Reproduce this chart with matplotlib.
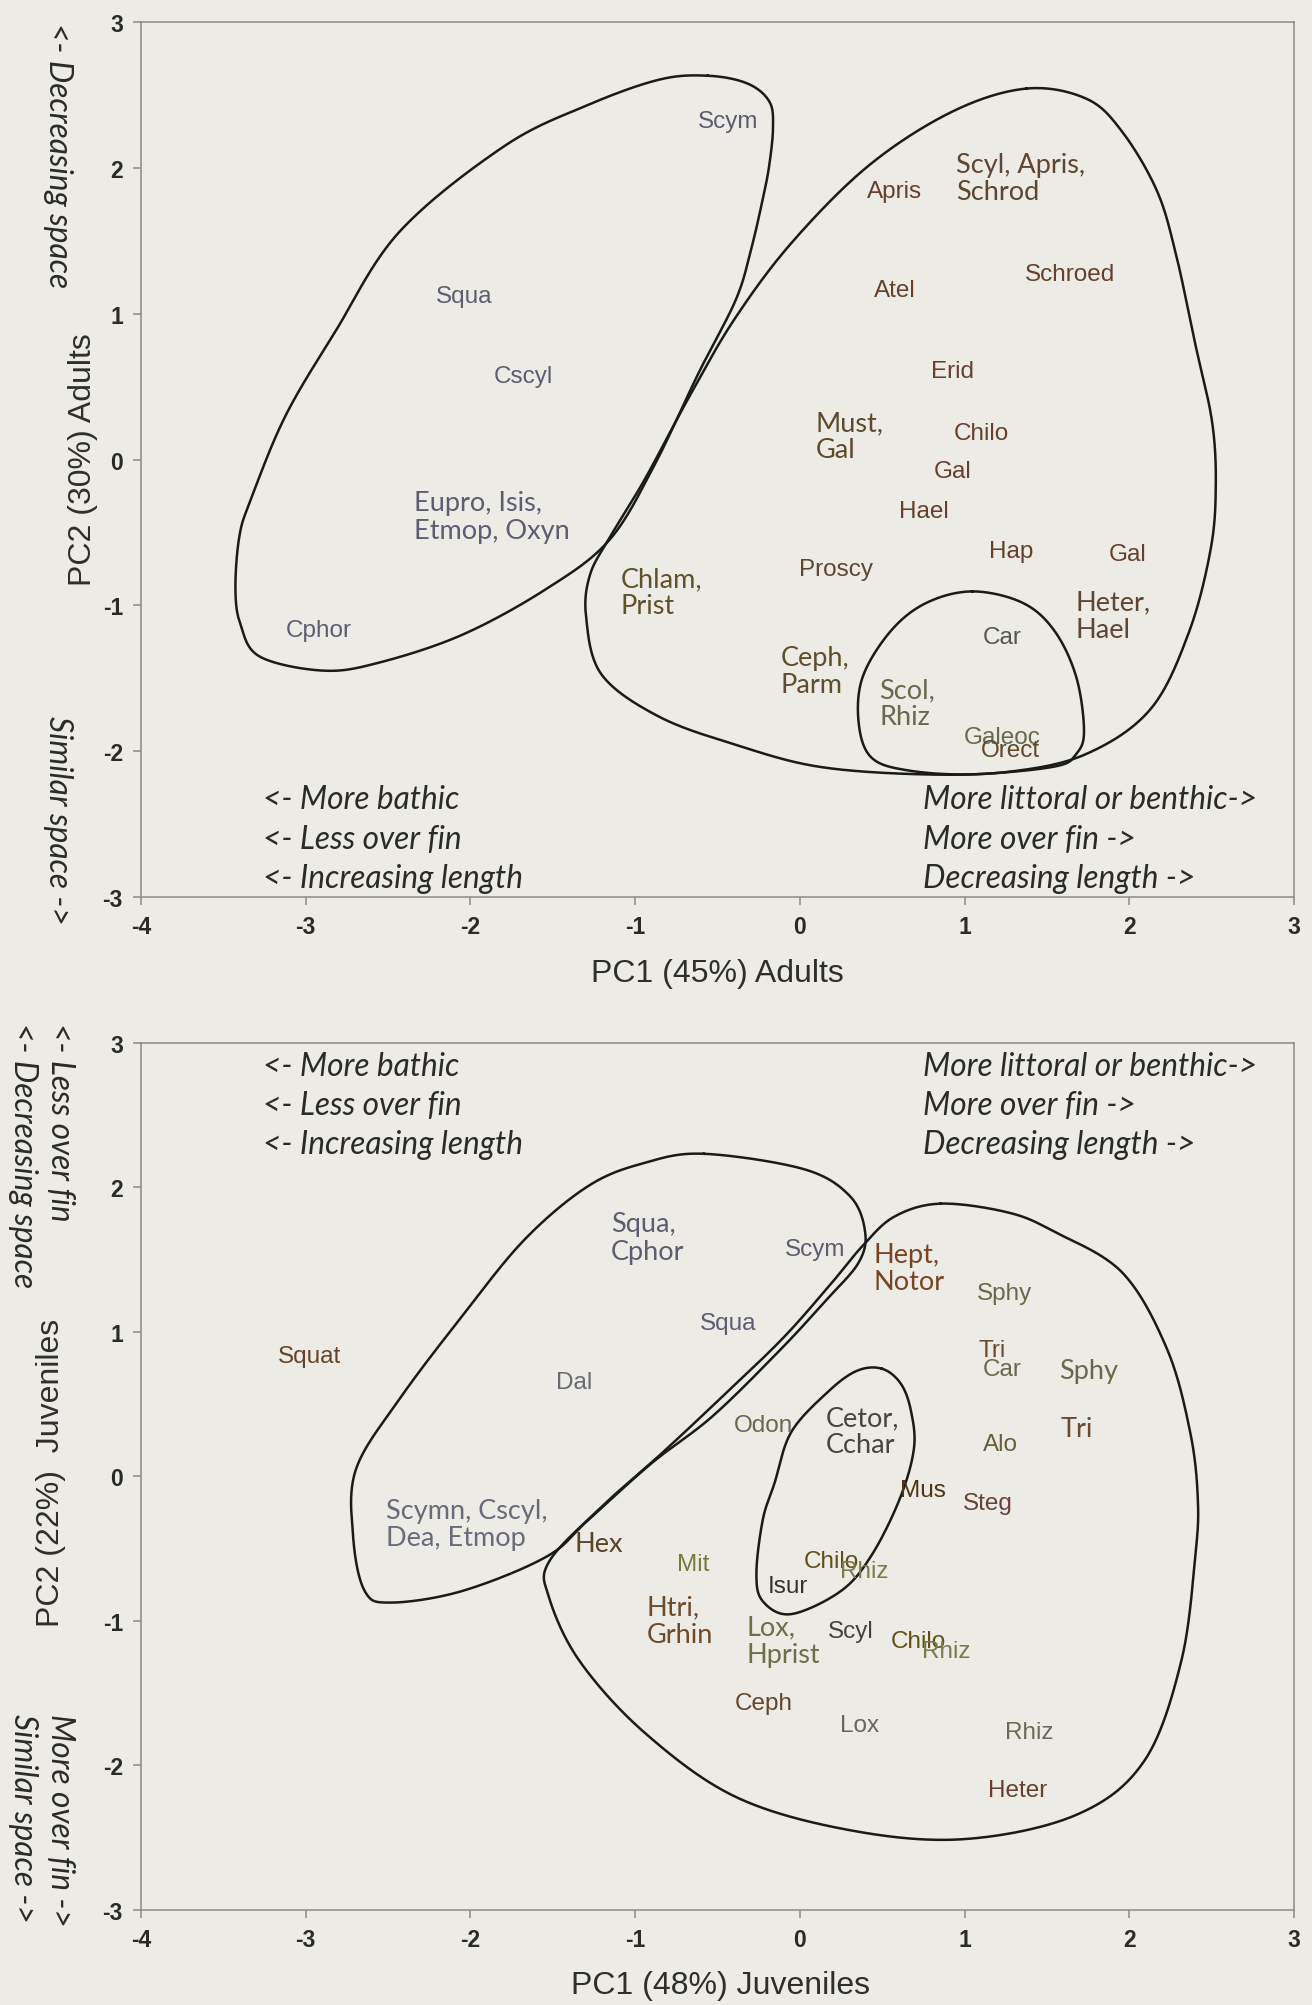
import numpy as np
import matplotlib
matplotlib.use("Agg")
import matplotlib.pyplot as plt

plt.rcParams["axes.unicode_minus"] = False

# ---------------- data: adults ----------------
adult_labels = ["Scym", "Squa", "Cscyl", "Eupro, Isis,\nEtmop, Oxyn", "Cphor",
                "Apris", "Scyl, Apris,\nSchrod", "Schroed", "Atel", "Erid",
                "Must,\nGal", "Chilo", "Gal", "Hael", "Hap", "Gal", "Proscy",
                "Chlam,\nPrist", "Heter,\nHael", "Car", "Ceph,\nParm",
                "Scol,\nRhiz", "Galeoc", "Orect"]
adult_x = [-0.435, -2.04, -1.68, -1.87, -2.92, 0.575, 1.34, 1.64, 0.575, 0.925,
           0.30, 1.10, 0.93, 0.75, 1.28, 1.99, 0.22, -0.84, 1.90, 1.23, 0.09,
           0.65, 1.23, 1.28]
adult_y = [2.32, 1.12, 0.57, -0.39, -1.17, 1.84, 1.93, 1.27, 1.16, 0.605,
           0.16, 0.18, -0.08, -0.35, -0.63, -0.65, -0.75, -0.91, -1.07, -1.22,
           -1.45, -1.67, -1.90, -1.99]
adult_font = ["A", "A", "A", "C", "A", "A", "C", "A", "A", "A", "C", "A", "A",
              "A", "A", "A", "A", "C", "C", "A", "C", "C", "A", "A"]
adult_color = ["#5e5c70", "#5e5c70", "#5e5c70", "#5e5c70", "#5e5c70",
               "#66402c", "#5e4632", "#66402c", "#66402c", "#66402c",
               "#5e4a2a", "#66402c", "#66402c", "#66402c", "#66402c", "#66402c",
               "#5e4632", "#5e5228", "#5e4632", "#54584a", "#5e4e2c",
               "#66694a", "#66694a", "#5e4a2a"]

# outlines (hull control points) - adults
ad_deep_x = [-0.559, -0.319, -0.186, -0.163, -0.186, -0.225, -0.295, -0.389, -0.614,
             -0.886, -1.158, -1.538, -2.051, -2.564, -2.898, -3.279, -3.396, -3.427,
             -3.403, -3.333, -3.124, -2.821, -2.432, -1.795, -1.290, -0.855]
ad_deep_y = [2.632, 2.579, 2.456, 2.281, 2.018, 1.789, 1.447, 1.096, 0.596,
             -0.044, -0.553, -0.886, -1.202, -1.395, -1.447, -1.351, -1.132, -0.886,
             -0.526, -0.272, 0.298, 0.877, 1.561, 2.149, 2.430, 2.605]
ad_shelf_x = [1.375, 1.740, 1.958, 2.168, 2.284, 2.401, 2.502, 2.525, 2.494, 2.362,
              2.129, 1.740, 1.274, 0.730, 0.109, -0.389, -0.855, -1.204, -1.298,
              -1.274, -1.150, -0.940, -0.668, -0.396, -0.047, 0.420, 0.925]
ad_shelf_y = [2.544, 2.474, 2.246, 1.842, 1.404, 0.789, 0.263, -0.175, -0.614, -1.184,
              -1.711, -2.018, -2.140, -2.158, -2.105, -1.956, -1.763, -1.474, -1.079,
              -0.789, -0.526, -0.132, 0.439, 0.965, 1.491, 2.018, 2.386]
ad_inner_x = [1.049, 1.352, 1.546, 1.678, 1.725, 1.678, 1.546, 1.049, 0.660, 0.435,
              0.357, 0.381, 0.552, 0.769]
ad_inner_y = [-0.904, -0.982, -1.175, -1.491, -1.860, -2.018, -2.105, -2.158, -2.132,
              -2.044, -1.807, -1.491, -1.175, -0.982]

# ---------------- data: juveniles ----------------
juv_labels = ["Squat", "Squa,\nCphor", "Scym", "Hept,\nNotor", "Sphy", "Squa", "Tri",
              "Car", "Sphy", "Dal", "Odon", "Cetor,\nCchar", "Tri", "Alo", "Mus",
              "Steg", "Scymn, Cscyl,\nDea, Etmop", "Hex", "Mit", "Chilo", "Rhiz",
              "Isur", "Htri,\nGrhin", "Lox,\nHprist", "Scyl", "Chilo", "Rhiz",
              "Ceph", "Lox", "Rhiz", "Heter"]
juv_x = [-2.98, -0.925, 0.09, 0.66, 1.24, -0.435, 1.17, 1.23, 1.75, -1.37, -0.22,
         0.38, 1.68, 1.22, 0.75, 1.14, -2.02, -1.22, -0.645, 0.19, 0.39, -0.07,
         -0.73, -0.10, 0.31, 0.72, 0.89, -0.22, 0.365, 1.39, 1.32]
juv_y = [0.83, 1.65, 1.57, 1.44, 1.27, 1.06, 0.87, 0.74, 0.73, 0.65, 0.35, 0.31,
         0.33, 0.22, -0.10, -0.19, -0.33, -0.47, -0.61, -0.59, -0.66, -0.76,
         -1.00, -1.14, -1.07, -1.14, -1.21, -1.57, -1.72, -1.77, -2.17]
juv_font = ["A", "C", "A", "C", "A", "A", "A", "A", "C", "A", "A", "C", "C", "A",
            "A", "A", "C", "C", "A", "A", "A", "A", "C", "C", "A", "A", "A", "A",
            "A", "A", "A"]
juv_color = ["#66442a", "#5e5c70", "#5e5c70", "#7a4424", "#66694a", "#5e5c70",
             "#6e4a2a", "#66694a", "#66694a", "#6a6a72", "#66694a", "#46463e",
             "#6e4a2a", "#66603a", "#4e3414", "#66443a", "#6a6a7a", "#5a4422",
             "#767a3a", "#5e5018", "#7a7a4a", "#363230", "#6e4a2a", "#6e6e48",
             "#44443c", "#5e5018", "#7a7a4a", "#66442a", "#66665a", "#6a6a58",
             "#66402c"]

jv_deep_x = [-0.583, 0.023, 0.303, 0.396, 0.357, 0.163, -0.117, -0.528, -0.901,
             -1.282, -1.538, -2.051, -2.486, -2.642, -2.712, -2.696, -2.432, -2.051,
             -1.671, -1.282, -0.940]
jv_deep_y = [2.230, 2.124, 1.938, 1.690, 1.478, 1.221, 0.876, 0.416, 0.088,
             -0.301, -0.558, -0.796, -0.876, -0.796, -0.425, 0.044, 0.531, 1.106,
             1.637, 2.009, 2.168]
jv_shelf_x = [0.855, 1.267, 1.546, 1.958, 2.230, 2.370, 2.416, 2.401, 2.315, 2.090,
              1.678, 0.995, 0.303, -0.389, -0.940, -1.336, -1.523, -1.523, -1.212,
              -0.862, -0.513, -0.109, 0.186, 0.381, 0.575]
jv_shelf_y = [1.885, 1.823, 1.690, 1.407, 0.876, 0.301, -0.159, -0.549, -1.283, -1.973,
              -2.345, -2.513, -2.451, -2.221, -1.779, -1.283, -0.841, -0.593, -0.221,
              0.133, 0.504, 0.947, 1.327, 1.593, 1.796]
jv_inner_x = [0.497, 0.614, 0.676, 0.692, 0.606, 0.435, 0.249, -0.054, -0.225, -0.264,
              -0.225, -0.155, -0.054, 0.163, 0.342]
jv_inner_y = [0.743, 0.637, 0.442, 0.186, -0.159, -0.549, -0.796, -0.956, -0.867,
              -0.673, -0.301, -0.053, 0.301, 0.575, 0.726]

left_notes = ["<- More bathic", "<- Less over fin", "<- Increasing length"]
right_notes = ["More littoral or benthic->", "More over fin ->", "Decreasing length ->"]

x_ticks = [-4, -3, -2, -1, 0, 1, 2, 3]
y_ticks = [-3, -2, -1, 0, 1, 2, 3]

# ---------------- style ----------------
BG = "#ecebe5"
ARIAL = "Liberation Sans"
CALIBRI = "Lato"
FS_A = 17.5
FS_C = 19.5
FS_NOTE = 22.8
FS_AX = 23
FS_TICK = 16.5


def smooth_closed(xs, ys, n=40):
    P = np.column_stack([xs, ys])
    N = len(P)
    t = np.linspace(0, 1, n, endpoint=False)[:, None]
    segs = []
    for i in range(N):
        p0, p1, p2, p3 = P[i - 1], P[i], P[(i + 1) % N], P[(i + 2) % N]
        segs.append(0.5 * ((2 * p1) + (-p0 + p2) * t
                           + (2 * p0 - 5 * p1 + 4 * p2 - p3) * t ** 2
                           + (-p0 + 3 * p1 - 3 * p2 + p3) * t ** 3))
    pts = np.vstack(segs + [segs[0][:1]])
    return pts[:, 0], pts[:, 1]


def style_axes(ax):
    ax.set_facecolor(BG)
    ax.set_xlim(-4, 3)
    ax.set_ylim(-3, 3)
    ax.set_xticks(x_ticks)
    ax.set_yticks(y_ticks)
    for s in ax.spines.values():
        s.set_color("#8a8a86")
        s.set_linewidth(1.1)
    ax.tick_params(direction="out", length=6, width=1.1, color="#8a8a86",
                   labelsize=FS_TICK, labelcolor="#2a2a2a", pad=7)
    for lab in ax.get_xticklabels() + ax.get_yticklabels():
        lab.set_fontfamily(ARIAL)
        lab.set_fontweight("bold")


def draw_labels(ax, labels, xs, ys, fonts, colors):
    for lab, x, y, f, c in zip(labels, xs, ys, fonts, colors):
        fam = ARIAL if f == "A" else CALIBRI
        fs = FS_A if f == "A" else FS_C
        ax.text(x, y, lab, ha="center", va="center", fontsize=fs, family=fam,
                color=c, linespacing=1.12, multialignment="left")


def draw_hulls(ax, hulls):
    for hx, hy in hulls:
        sx, sy = smooth_closed(hx, hy)
        ax.plot(sx, sy, color="#1a1a1a", lw=1.8, solid_joinstyle="round")


def draw_notes(ax, ys):
    for txt, y in zip(left_notes, ys):
        ax.text(-3.26, y, txt, ha="left", va="center", fontsize=FS_NOTE,
                family=CALIBRI, style="italic", color="#2a2a2a")
    for txt, y in zip(right_notes, ys):
        ax.text(0.746, y, txt, ha="left", va="center", fontsize=FS_NOTE,
                family=CALIBRI, style="italic", color="#2a2a2a")


fig = plt.figure(figsize=(13.12, 20.06), dpi=100, facecolor=BG)

# ---- adults ----
ax1 = fig.add_axes([0.1075, 0.5523, 0.8788, 0.4362])
style_axes(ax1)
draw_hulls(ax1, [(ad_deep_x, ad_deep_y), (ad_shelf_x, ad_shelf_y),
                 (ad_inner_x, ad_inner_y)])
draw_labels(ax1, adult_labels, adult_x, adult_y, adult_font, adult_color)
draw_notes(ax1, [-2.33, -2.60, -2.87])

# ---- juveniles ----
ax2 = fig.add_axes([0.1075, 0.0476, 0.8788, 0.4322])
style_axes(ax2)
draw_hulls(ax2, [(jv_deep_x, jv_deep_y), (jv_shelf_x, jv_shelf_y),
                 (jv_inner_x, jv_inner_y)])
draw_labels(ax2, juv_labels, juv_x, juv_y, juv_font, juv_color)
draw_notes(ax2, [2.84, 2.57, 2.30])

# ---- axis titles ----
AXC = "#2e2e2e"
NC = "#2a2a2a"
fig.text(0.5465, 0.5145, "PC1 (45%) Adults", ha="center", va="center",
         fontsize=FS_AX, family=ARIAL, color=AXC)
fig.text(0.063, 0.7707, "PC2 (30%) Adults", ha="center", va="center",
         rotation=90, fontsize=FS_AX, family=ARIAL, color=AXC)
fig.text(0.044, 0.9885, "<- Decreasing space", ha="center", va="top",
         rotation=270, fontsize=FS_NOTE, family=CALIBRI, style="italic", color=NC)
fig.text(0.044, 0.643, "Similar space ->", ha="center", va="top",
         rotation=270, fontsize=FS_NOTE, family=CALIBRI, style="italic", color=NC)

fig.text(0.549, 0.010, "PC1 (48%) Juveniles", ha="center", va="center",
         fontsize=FS_AX, family=ARIAL, color=AXC)
fig.text(0.039, 0.2657, "PC2 (22%)  Juveniles", ha="center", va="center",
         rotation=90, fontsize=FS_AX, family=ARIAL, color=AXC)
fig.text(0.046, 0.490, "<- Less over fin", ha="center", va="top",
         rotation=270, fontsize=FS_NOTE, family=CALIBRI, style="italic", color=NC)
fig.text(0.0175, 0.490, "<- Decreasing space", ha="center", va="top",
         rotation=270, fontsize=FS_NOTE, family=CALIBRI, style="italic", color=NC)
fig.text(0.046, 0.1456, "More over fin ->", ha="center", va="top",
         rotation=270, fontsize=FS_NOTE, family=CALIBRI, style="italic", color=NC)
fig.text(0.0175, 0.1456, "Similar space ->", ha="center", va="top",
         rotation=270, fontsize=FS_NOTE, family=CALIBRI, style="italic", color=NC)

fig.savefig("out.png", dpi=100, facecolor=BG)
